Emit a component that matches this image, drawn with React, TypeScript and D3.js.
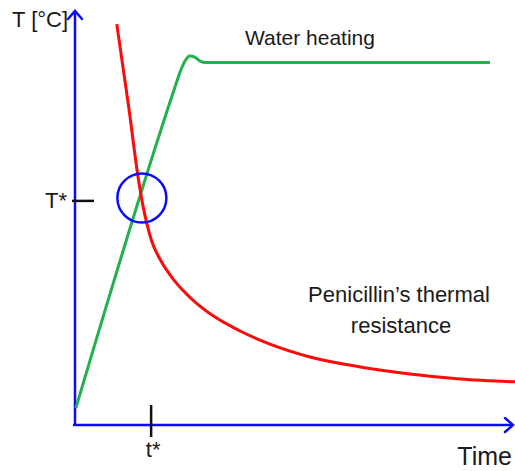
import React, { useEffect, useRef } from 'react';
import * as d3 from 'd3';

// arbitrary units: time 0..100, temperature 0..100
const waterTime = [0.2, 22.5, 23.9, 25, 26.1, 27.3, 28.4, 29.8, 94.3];
const waterTemp = [4.1, 80.7, 85.1, 87.7, 88.9, 88.6, 87.7, 87.35, 87.35];

const penTime = [9.5, 12.3, 14.3, 15.45, 16.4, 17.5, 19.3, 22.5, 26.8, 31.4, 37.5, 44.3, 53.4, 64.8, 76.1, 87.5, 100];
const penTemp = [96.6, 75.9, 60, 52.8, 48.2, 44.1, 40, 34.9, 30.1, 26.3, 22.65, 19.5, 16.4, 14, 12.3, 11.1, 10.4];

const tStar = 17.3;
const TStar = 54;
const crossing = { t: 15.2, T: 54.7 };

const W = 515;
const H = 471;

const App: React.FC = () => {
  const svgRef = useRef<SVGSVGElement>(null);

  useEffect(() => {
    if (!svgRef.current) return;
    const svg = d3.select(svgRef.current);
    svg.selectAll('*').remove();

    const x = d3.scaleLinear().domain([0, 100]).range([75, 515]);
    const y = d3.scaleLinear().domain([0, 100]).range([425, 10]);
    const font = '"Liberation Sans", Arial, sans-serif';
    const blue = '#0a0aff';

    // axes
    const axes = svg.append('g').attr('stroke', blue).attr('stroke-width', 2.5).attr('fill', 'none');
    axes.append('line').attr('x1', x(0)).attr('x2', x(0)).attr('y1', y(0)).attr('y2', y(100) + 1);
    axes.append('line').attr('x1', x(0) - 2).attr('x2', x(100) - 2).attr('y1', y(0)).attr('y2', y(0));
    axes.append('path')
      .attr('stroke-linecap', 'round')
      .attr('d', `M${x(0) - 7},${y(100) + 9}L${x(0)},${y(100) + 1}L${x(0) + 7},${y(100) + 9}`);
    axes.append('path')
      .attr('stroke-linecap', 'round')
      .attr('d', `M${x(100) - 10},${y(0) - 7}L${x(100) - 2},${y(0)}L${x(100) - 10},${y(0) + 7}`);

    // T* and t* ticks
    svg.append('line')
      .attr('x1', x(0) - 3).attr('x2', x(0) + 19)
      .attr('y1', y(TStar)).attr('y2', y(TStar))
      .attr('stroke', '#111').attr('stroke-width', 2.5);
    svg.append('line')
      .attr('x1', x(tStar)).attr('x2', x(tStar))
      .attr('y1', y(0) - 20).attr('y2', y(0) + 12)
      .attr('stroke', '#111').attr('stroke-width', 2.5);

    // curves
    const line = d3.line<[number, number]>()
      .x(d => x(d[0]))
      .y(d => y(d[1]))
      .curve(d3.curveMonotoneX);

    const water = waterTime.map((t, i) => [t, waterTemp[i]] as [number, number]);
    const pen = penTime.map((t, i) => [t, penTemp[i]] as [number, number]);

    svg.append('path')
      .attr('d', line(water))
      .attr('fill', 'none')
      .attr('stroke', '#22b14c')
      .attr('stroke-width', 3);

    svg.append('path')
      .attr('d', line(pen))
      .attr('fill', 'none')
      .attr('stroke', '#ff0a0a')
      .attr('stroke-width', 3);

    // circle at the crossing
    svg.append('circle')
      .attr('cx', x(crossing.t))
      .attr('cy', y(crossing.T))
      .attr('r', 24.5)
      .attr('fill', 'none')
      .attr('stroke', blue)
      .attr('stroke-width', 2.5);

    // labels
    const txt = (s: string, px: number, py: number, size: number, anchor = 'start') =>
      svg.append('text')
        .attr('x', px).attr('y', py)
        .attr('font-family', font)
        .attr('font-size', size)
        .attr('fill', '#1a1a1a')
        .attr('text-anchor', anchor)
        .text(s);

    txt('T [°C]', 12, 27, 22);
    txt('T*', 45, 208, 22);
    txt('t*', x(tStar) + 2, 457, 22, 'middle');
    txt('Time', 512, 465, 25, 'end');
    txt('Water heating', 310, 45, 21, 'middle');
    txt('Penicillin’s thermal', 399, 302, 22, 'middle');
    txt('resistance', 401, 333, 22, 'middle');
  }, []);

  return (
    <svg
      ref={svgRef}
      width={W}
      height={H}
      style={{ position: 'absolute', left: 0, top: 0, background: '#fff' }}
    />
  );
};

export default App;
